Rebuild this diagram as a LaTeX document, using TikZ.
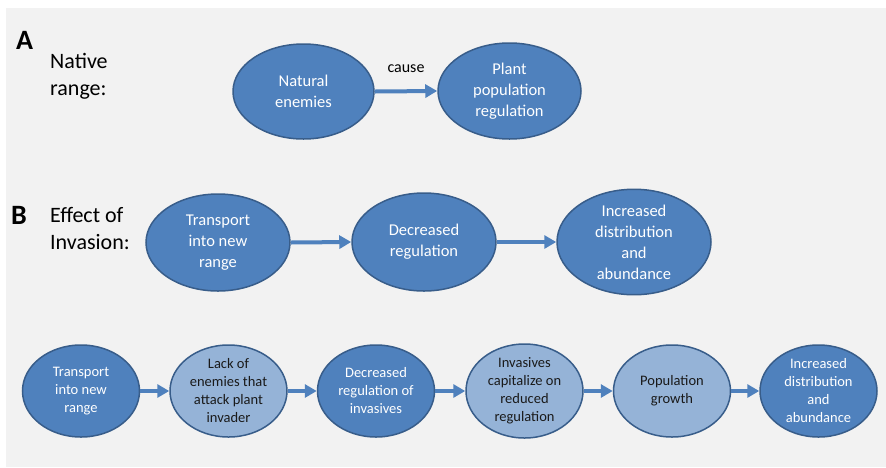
\documentclass[tikz,border=0pt]{standalone}
\usepackage{fontspec}
\setmainfont{Carlito}
\usetikzlibrary{shapes.geometric,arrows.meta}
\definecolor{bgc}{HTML}{F2F2F2}
\definecolor{darkf}{HTML}{4F81BD}
\definecolor{lightf}{HTML}{95B3D7}
\definecolor{edgec}{HTML}{385D8A}
\definecolor{txtc}{HTML}{1A1A1A}
\tikzset{
  ell/.style={ellipse, draw=edgec, line width=1.5pt, inner sep=0pt, align=center},
  bigell/.style={ell, fill=darkf, text=white, font=\fontsize{16.5}{21}\selectfont},
  darkell/.style={ell, fill=darkf, text=white, minimum width=117pt, minimum height=92pt, font=\fontsize{14.5}{18}\selectfont},
  lightell/.style={ell, fill=lightf, text=txtc, minimum width=117pt, minimum height=92pt, font=\fontsize{14.5}{18}\selectfont},
  flow/.style={draw=darkf, line width=4pt, -{Triangle[length=12pt,width=13pt]}},
  lbl/.style={inner sep=0pt, anchor=west, align=left, text=black, font=\fontsize{22}{27}\selectfont},
  letter/.style={inner sep=0pt, text=black, font=\fontsize{28}{30}\selectfont\bfseries}
}
\begin{document}
\begin{tikzpicture}[x=1pt,y=-1pt]
\useasboundingbox (0,0) rectangle (886,467);
\fill[bgc] (6,8) rectangle (886,467);
% A
\node[letter] (la) at (24.5,40) {A};
\node[lbl] (ta) at (50,76) {Native\\range:};
\node[bigell, minimum width=141pt, minimum height=95pt] (ne) at (303.5,91.5) {Natural\\enemies};
\node[bigell, minimum width=143pt, minimum height=96pt] (pp) at (509.5,91) {Plant\\population\\regulation};
\draw[flow] (ne.east) -- (pp.west) node[midway, above=17pt, inner sep=0pt, text=black, font=\fontsize{16}{19}\selectfont] (cs) {cause};
% B
\node[letter] (lb) at (19,215) {B};
\node[lbl] (tb) at (50,228) {Effect of\\Invasion:};
\node[bigell, minimum width=144pt, minimum height=97pt] (t1) at (218,242.5) {Transport\\into new\\range};
\node[bigell, minimum width=144pt, minimum height=98pt] (d1) at (424,242) {Decreased\\regulation};
\node[bigell, minimum width=154pt, minimum height=100pt] (i1) at (634,242) {Increased\\distribution\\and\\abundance};
\draw[flow] (t1.east) -- (d1.west);
\draw[flow] (d1.east) -- (i1.west);
% bottom row
\node[darkell] (b1) at (81,391) {Transport\\into new\\range};
\node[lightell] (b2) at (228.5,391) {Lack of\\enemies that\\attack plant\\invader};
\node[darkell] (b3) at (376,391) {Decreased\\regulation of\\invasives};
\node[lightell] (b4) at (524.5,391) {Invasives\\capitalize on\\reduced\\regulation};
\node[lightell] (b5) at (672,391) {Population\\growth};
\node[darkell] (b6) at (818.5,391) {Increased\\distribution\\and\\abundance};
\draw[flow] (b1.east) -- (b2.west);
\draw[flow] (b2.east) -- (b3.west);
\draw[flow] (b3.east) -- (b4.west);
\draw[flow] (b4.east) -- (b5.west);
\draw[flow] (b5.east) -- (b6.west);
\end{tikzpicture}
\end{document}
